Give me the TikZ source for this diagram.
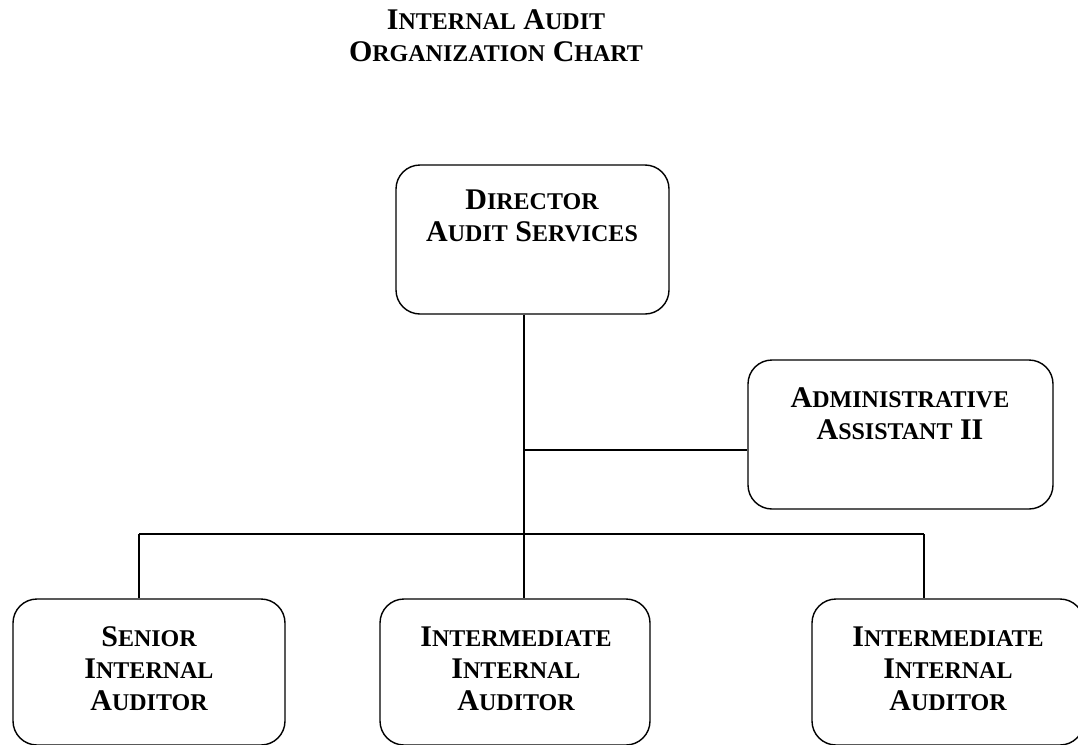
\documentclass[tikz,border=0pt]{standalone}
\usepackage{fontspec}
\setmainfont{Liberation Serif}
\newcommand\bigsz{\fontsize{30}{32}\selectfont}
\newcommand\smsz{\fontsize{24}{32}\selectfont}
\newcommand\SC[2]{{\bigsz #1}{\smsz #2}}
\begin{document}
\begin{tikzpicture}[x=1pt,y=-1pt,
  box/.style={draw=black, line width=1.4pt, rounded corners=24pt, fill=none, inner sep=0pt},
  txt/.style={align=center, font=\bfseries\bigsz, inner sep=0pt},
  conn/.style={draw=black, line width=1.4pt}]
\useasboundingbox (0,0) rectangle (1078,744);
\clip (0,0) rectangle (1078,744);
\fill[white] (0,0) rectangle (1078,744);
% title
\node[txt] (title) at (496,35.5) {\SC{I}{NTERNAL} \SC{A}{UDIT}\\ \SC{O}{RGANIZATION} \SC{C}{HART}};
% boxes
\node[box, minimum width=273pt, minimum height=149pt] (dir) at (532.5,239.5) {};
\node[box, minimum width=305pt, minimum height=149pt] (adm) at (900.5,434.5) {};
\node[box, minimum width=272pt, minimum height=146pt] (sen) at (149,672) {};
\node[box, minimum width=270pt, minimum height=146pt] (mid) at (515,672) {};
\node[box, minimum width=272pt, minimum height=146pt] (rgt) at (948,672) {};
% texts
\node[txt] (dirt) at (532,216) {\SC{D}{IRECTOR}\\ \SC{A}{UDIT} \SC{S}{ERVICES}};
\node[txt] (admt) at (900,413.5) {\SC{A}{DMINISTRATIVE}\\ \SC{A}{SSISTANT} II};
\node[txt] (sent) at (149,668.5) {\SC{S}{ENIOR}\\ \SC{I}{NTERNAL}\\ \SC{A}{UDITOR}};
\node[txt] (midt) at (516,668.5) {\SC{I}{NTERMEDIATE}\\ \SC{I}{NTERNAL}\\ \SC{A}{UDITOR}};
\node[txt] (rgtt) at (948,668.5) {\SC{I}{NTERMEDIATE}\\ \SC{I}{NTERNAL}\\ \SC{A}{UDITOR}};
% connectors
\coordinate (tr) at (524,534);
\coordinate (aj) at (524,450);
\coordinate (d1) at (139,534);
\coordinate (d3) at (924,534);
\draw[conn] (tr |- dir.south) -- (tr |- mid.north);
\draw[conn] (aj) -- (aj -| adm.west);
\draw[conn] (d1) -- (d3);
\draw[conn] (d1) -- (d1 |- sen.north);
\draw[conn] (d3) -- (d3 |- rgt.north);
\end{tikzpicture}
\end{document}
